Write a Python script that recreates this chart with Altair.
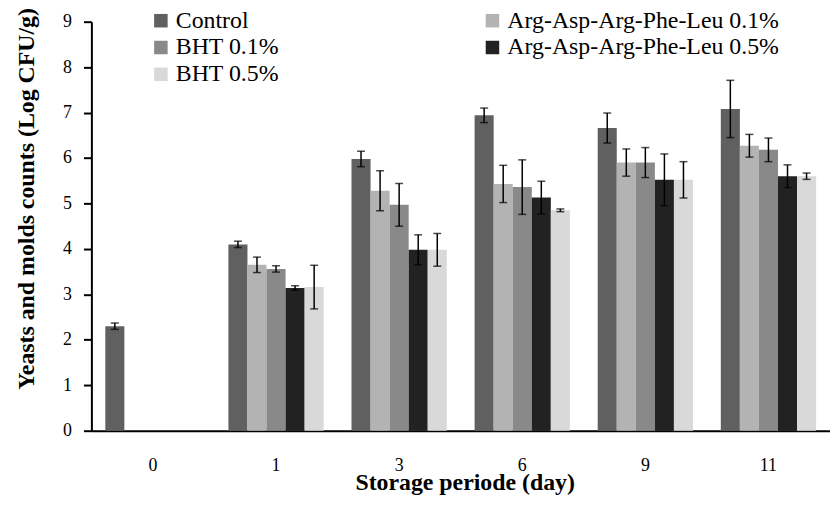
import altair as alt
import pandas as pd

days = ["0", "1", "3", "6", "9", "11"]
series = ["Control", "Arg-Asp-Arg-Phe-Leu 0.1%", "BHT 0.1%",
          "Arg-Asp-Arg-Phe-Leu 0.5%", "BHT 0.5%"]
colors = ["#606060", "#b3b3b3", "#898989", "#222222", "#d9d9d9"]

# legend order (Vega fills legend columns top-to-bottom)
legend_order = ["Control", "BHT 0.1%", "BHT 0.5%",
                "Arg-Asp-Arg-Phe-Leu 0.1%", "Arg-Asp-Arg-Phe-Leu 0.5%"]
legend_colors = [colors[series.index(s)] for s in legend_order]

# means per series, per day (None = not measured)
control = [2.30, 4.10, 5.98, 6.94, 6.66, 7.08]
arg01 = [None, 3.65, 5.28, 5.43, 5.90, 6.27]
bht01 = [None, 3.56, 4.97, 5.36, 5.90, 6.18]
arg05 = [None, 3.14, 3.98, 5.13, 5.52, 5.60]
bht05 = [None, 3.16, 3.98, 4.85, 5.52, 5.60]

control_err = [0.07, 0.07, 0.17, 0.16, 0.33, 0.63]
arg01_err = [None, 0.17, 0.44, 0.41, 0.30, 0.25]
bht01_err = [None, 0.07, 0.47, 0.60, 0.33, 0.26]
arg05_err = [None, 0.05, 0.33, 0.36, 0.57, 0.25]
bht05_err = [None, 0.48, 0.36, 0.03, 0.40, 0.07]

means = [control, arg01, bht01, arg05, bht05]
errs = [control_err, arg01_err, bht01_err, arg05_err, bht05_err]

rows = []
for s, m_list, e_list in zip(series, means, errs):
    for d, m, e in zip(days, m_list, e_list):
        if m is None:
            continue
        rows.append({"day": d, "series": s, "mean": m, "lo": m - e, "hi": m + e})
df = pd.DataFrame(rows)

FONT = "Times New Roman, Liberation Serif, serif"

x = alt.X("day:N", sort=days,
          scale=alt.Scale(paddingInner=0.226, paddingOuter=0.113),
          axis=alt.Axis(title="Storage periode (day)", labelAngle=0, tickSize=0,
                        labelPadding=26, labelFontSize=18, titleFontSize=24,
                        titleFontWeight="bold", titlePadding=-4, titleX=376,
                        labelFont=FONT, titleFont=FONT))
xo = alt.XOffset("series:N", sort=series, scale=alt.Scale(paddingInner=0, paddingOuter=0))

base = alt.Chart(df)

bars = base.mark_bar().encode(
    x=x, xOffset=xo,
    y=alt.Y("mean:Q", scale=alt.Scale(domain=[0, 9]),
            axis=alt.Axis(title="Yeasts and molds counts (Log CFU/g)",
                          values=list(range(0, 10)), tickSize=8, labelPadding=12,
                          labelFontSize=18, titleFontSize=24, titleFontWeight="bold",
                          titlePadding=24, titleY=178, grid=False,
                          labelFont=FONT, titleFont=FONT)),
    color=alt.Color("series:N",
                    scale=alt.Scale(domain=legend_order, range=legend_colors),
                    legend=alt.Legend(title=None, orient="none", legendX=58, legendY=-13,
                                      columns=2, columnPadding=203, rowPadding=3,
                                      symbolType="square", symbolSize=185,
                                      symbolStrokeWidth=0, labelFontSize=24,
                                      labelOffset=3, padding=0, labelLimit=400,
                                      labelFont=FONT)),
)

rule = base.mark_rule(color="black", strokeWidth=1.5).encode(
    x=x, xOffset=xo, y="lo:Q", y2="hi:Q")
cap_lo = base.mark_tick(color="black", thickness=1.5, size=8).encode(
    x=x, xOffset=xo, y="lo:Q")
cap_hi = base.mark_tick(color="black", thickness=1.5, size=8).encode(
    x=x, xOffset=xo, y="hi:Q")

chart = alt.layer(bars, rule, cap_lo, cap_hi).properties(
    width=744, height=412,
    padding={"left": 84, "top": 12, "right": 0, "bottom": 67},
    autosize=alt.AutoSizeParams(type="none"),
).configure(font=FONT).configure_view(stroke=None).configure_axis(
    domainColor="black", domainWidth=2, tickColor="black", tickWidth=2,
    labelColor="black", titleColor="black",
).configure_legend(labelColor="black")

chart.save("out.html", embed_options={"renderer": "svg", "actions": False})
